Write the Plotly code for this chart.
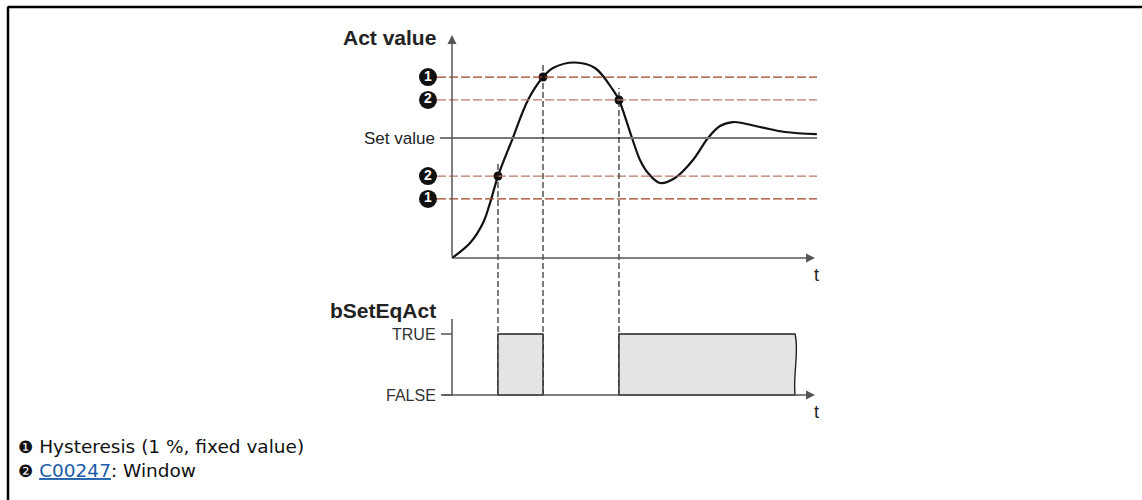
import plotly.graph_objects as go

# ---------------------------------------------------------------------------
# Data
# ---------------------------------------------------------------------------
# Actual value over time (t: 0..100, value: set value = 100)
t_act = [0, 4.96, 8.54, 10.47, 12.67, 16.53, 20.94, 25.07, 27.82, 33.88,
         39.39, 44.35, 46.0, 49.59, 51.79, 54.0, 57.3, 61.43, 66.39,
         70.52, 73.83, 77.41, 84.85, 91.74, 100.5]
v_act = [0, 12.5, 29.2, 45.8, 68.3, 98.3, 131.7, 150.8, 158.3, 162.9,
         158.3, 140.0, 131.7, 100.0, 81.7, 70.8, 62.5, 66.7, 81.7,
         100.0, 110.0, 113.3, 109.2, 105.0, 103.3]

SET_VALUE = 100
# Hysteresis band (marker 1) and window band (marker 2)
hyst_levels = [150.8, 49.2]
window_levels = [131.7, 68.3]

# Switching instants of bSetEqAct and the level crossed at each
switch_t = [12.67, 25.07, 46.0]
switch_v = [68.3, 150.8, 131.7]

# bSetEqAct pulses (start, end); the last one keeps going (broken edge)
pulses = [(12.67, 25.07), (46.0, 94.5)]
pulse_open_end = [False, True]

state_ticks = [0, 1]
state_labels = ["FALSE", "TRUE"]

# ---------------------------------------------------------------------------
# Layout geometry (pixels of the 1142 x 500 page)
# ---------------------------------------------------------------------------
W, H = 1142, 500
X0_PX, PX_PER_T = 452, 3.63          # time axis origin / scale
V0_PX, PX_PER_V = 258, 1.2           # upper chart value axis
B0_PX, PX_PER_B = 395, 61            # lower chart state axis

X_DOM_PX = (380, 840)
TOP_DOM_PX = (270, 25)               # bottom, top
BOT_DOM_PX = (425, 300)


def t_at(px):
    return (px - X0_PX) / PX_PER_T


def v_at(py):
    return (V0_PX - py) / PX_PER_V


def b_at(py):
    return (B0_PX - py) / PX_PER_B


def py_of_v(v):
    return 1 - (V0_PX - v * PX_PER_V) / H


def py_of_b(b):
    return 1 - (B0_PX - b * PX_PER_B) / H


def px(x):
    return x / W


def py(y):
    return 1 - y / H


AXIS_COL = "#555555"
HYST_COL = "#a3432b"
WIN_COL = "#bb7a68"
FONT = "Liberation Sans, Arial, sans-serif"

fig = go.Figure()

# Actual value curve
fig.add_trace(go.Scatter(
    x=t_act, y=v_act, mode="lines",
    line=dict(color="#111111", width=2.2, shape="spline", smoothing=1.0),
    xaxis="x", yaxis="y", hoverinfo="skip", showlegend=False))

# Switching points
fig.add_trace(go.Scatter(
    x=switch_t, y=switch_v, mode="markers",
    marker=dict(color="#111111", size=9),
    xaxis="x", yaxis="y", hoverinfo="skip", showlegend=False))

shapes = []
annotations = []

# Threshold lines
t_line_end = t_at(817)
for lvl in hyst_levels:
    shapes.append(dict(type="line", xref="x", yref="y", x0=t_at(437), x1=t_line_end,
                       y0=lvl, y1=lvl, line=dict(color=HYST_COL, width=1.2, dash="9px,3px")))
for lvl in window_levels:
    shapes.append(dict(type="line", xref="x", yref="y", x0=t_at(437), x1=t_line_end,
                       y0=lvl, y1=lvl, line=dict(color=WIN_COL, width=1.2, dash="9px,3px")))

# Numbered badges at the left end of the threshold lines
badge_levels = hyst_levels + window_levels
badge_text = ["<b>1</b>"] * len(hyst_levels) + ["<b>2</b>"] * len(window_levels)
fig.add_trace(go.Scatter(
    x=[t_at(428)] * len(badge_levels), y=badge_levels, mode="markers+text",
    marker=dict(color="#111111", size=18, line=dict(width=0)),
    text=badge_text, textposition="middle center",
    textfont=dict(family="Liberation Sans, Arial, sans-serif", size=14, color="white"),
    xaxis="x", yaxis="y", hoverinfo="skip", showlegend=False, cliponaxis=False))

# Set value line
shapes.append(dict(type="line", xref="x", yref="y", x0=t_at(440), x1=t_line_end,
                   y0=SET_VALUE, y1=SET_VALUE, line=dict(color="#777777", width=2)))
annotations.append(dict(xref="x", yref="y", x=t_at(437), y=SET_VALUE, text="Set value",
                        xanchor="right", showarrow=False, font=dict(family=FONT, size=17, color="#222")))

# Upper chart axes (arrows)
annotations.append(dict(xref="x", yref="y", axref="x", ayref="y", x=0, y=v_at(35), ax=0, ay=0,
                        text="", showarrow=True, arrowhead=2, arrowsize=1.2, arrowwidth=1.5,
                        arrowcolor=AXIS_COL, standoff=0, startstandoff=0))
annotations.append(dict(xref="x", yref="y", axref="x", ayref="y", x=t_at(815), y=0, ax=0, ay=0,
                        text="", showarrow=True, arrowhead=2, arrowsize=1.2, arrowwidth=1.5,
                        arrowcolor=AXIS_COL, standoff=0, startstandoff=0))
annotations.append(dict(xref="paper", yref="paper", x=px(438), y=py(38), text="<b>Act value</b>",
                        xanchor="right", yanchor="middle", showarrow=False,
                        font=dict(family=FONT, size=21, color="#222")))
annotations.append(dict(xref="x", yref="y", x=t_at(816), y=0, yshift=-17, text="t",
                        showarrow=False, font=dict(family=FONT, size=18, color="#222")))

# Vertical dashed guide lines from switching points down to the state axis
for ts, vs in zip(switch_t, switch_v):
    shapes.append(dict(type="line", xref="x", yref="paper", x0=ts, x1=ts,
                       y0=py_of_b(0), y1=py_of_v(vs + 10),
                       line=dict(color="#111111", width=1.1, dash="6px,3px")))

# bSetEqAct pulses
for (a, b), open_end in zip(pulses, pulse_open_end):
    if open_end:
        path = (f"M{a},0 L{a},1 L{b},1 "
                f"C{b + 1.2},0.7 {b - 0.6},0.35 {b},0 Z")
    else:
        path = f"M{a},0 L{a},1 L{b},1 L{b},0 Z"
    shapes.append(dict(type="path", xref="x", yref="y2", path=path,
                       fillcolor="#e4e4e4", line=dict(color="#222222", width=1.4)))

# Lower chart axes
shapes.append(dict(type="line", xref="x", yref="y2", x0=0, x1=0, y0=0, y1=b_at(319),
                   line=dict(color=AXIS_COL, width=1.5)))
for tick, lab in zip(state_ticks, state_labels):
    shapes.append(dict(type="line", xref="x", yref="y2", x0=t_at(441), x1=0, y0=tick, y1=tick,
                       line=dict(color=AXIS_COL, width=1.5)))
    annotations.append(dict(xref="x", yref="y2", x=t_at(438), y=tick, text=lab, xanchor="right",
                            showarrow=False, font=dict(family=FONT, size=16, color="#333")))
annotations.append(dict(xref="x", yref="y2", axref="x", ayref="y2", x=t_at(815), y=0,
                        ax=t_at(441), ay=0, text="", showarrow=True, arrowhead=2, arrowsize=1.2,
                        arrowwidth=1.5, arrowcolor=AXIS_COL, standoff=0, startstandoff=0))
annotations.append(dict(xref="paper", yref="paper", x=px(438), y=py(310), text="<b>bSetEqAct</b>",
                        xanchor="right", yanchor="middle", showarrow=False,
                        font=dict(family=FONT, size=21, color="#222")))
annotations.append(dict(xref="x", yref="y2", x=t_at(816), y=0, yshift=-17, text="t",
                        showarrow=False, font=dict(family=FONT, size=18, color="#222")))

# Footnotes (one text block, two lines)
NOTE_FONT = dict(family="DejaVu Sans, sans-serif", size=18.5, color="#111")
BULLET = "<span style='font-size:17px'>{}</span>"
note_text = (BULLET.format("❶") + " Hysteresis (1 %, fixed value)<br>"
             + BULLET.format("❷") + " <span style='color:#1a5ca8'><u>C00247</u></span>: Window")
annotations.append(dict(xref="paper", yref="paper", x=px(16), y=py(458), xanchor="left",
                        yanchor="middle", align="left", showarrow=False, font=NOTE_FONT,
                        text=note_text))

# Page frame (top and left rules)
shapes.append(dict(type="line", xref="paper", yref="paper", x0=px(7.5), x1=1, y0=py(7), y1=py(7),
                   line=dict(color="black", width=2.5)))
shapes.append(dict(type="line", xref="paper", yref="paper", x0=px(8), x1=px(8), y0=py(7), y1=0,
                   line=dict(color="black", width=2.5)))

fig.update_layout(
    width=W, height=H,
    margin=dict(l=0, r=0, t=0, b=0),
    paper_bgcolor="white", plot_bgcolor="white",
    showlegend=False,
    xaxis=dict(domain=[px(X_DOM_PX[0]), px(X_DOM_PX[1])],
               range=[t_at(X_DOM_PX[0]), t_at(X_DOM_PX[1])], visible=False, fixedrange=True),
    yaxis=dict(domain=[py(TOP_DOM_PX[0]), py(TOP_DOM_PX[1])],
               range=[v_at(TOP_DOM_PX[0]), v_at(TOP_DOM_PX[1])], visible=False, fixedrange=True),
    yaxis2=dict(domain=[py(BOT_DOM_PX[0]), py(BOT_DOM_PX[1])],
                range=[b_at(BOT_DOM_PX[0]), b_at(BOT_DOM_PX[1])], visible=False, fixedrange=True),
    shapes=shapes,
    annotations=annotations,
)

fig.write_html("out.html")
